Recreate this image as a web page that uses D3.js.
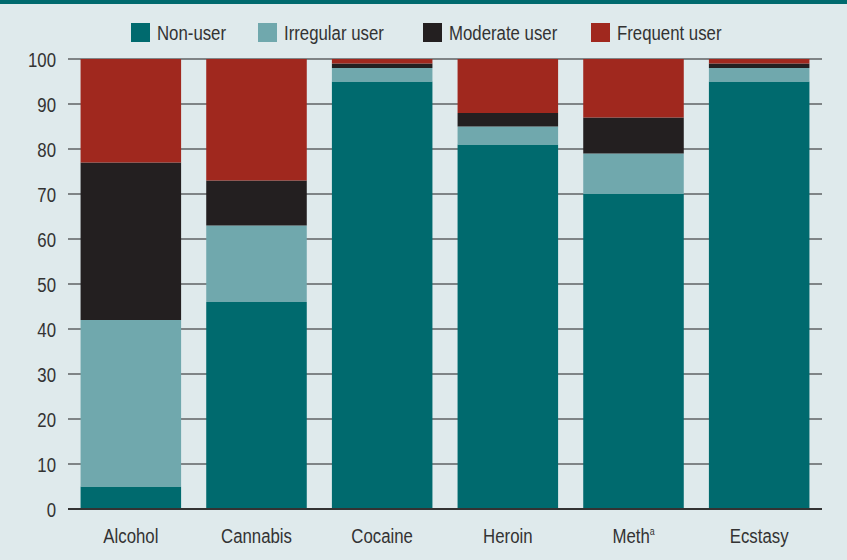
<!DOCTYPE html>
<html>
<head>
<meta charset="utf-8">
<script src="https://cdn.jsdelivr.net/npm/d3@7"></script>
<style>
  html, body { margin: 0; padding: 0; background: #dfeaec; }
  svg { display: block; }
  text { font-family: "Liberation Sans", Arial, sans-serif; fill: #333; }
</style>
</head>
<body>
<div id="chart"></div>
<script>
// categories and stacked shares (percent of respondents)
const drugs = ['Alcohol', 'Cannabis', 'Cocaine', 'Heroin', 'Meth', 'Ecstasy'];
const groups = ['Non-user', 'Irregular user', 'Moderate user', 'Frequent user'];
const nonUser = [5, 46, 95, 81, 70, 95];
const irregularUser = [37, 17, 3, 4, 9, 3];
const moderateUser = [35, 10, 1, 3, 8, 1];
const frequentUser = [23, 27, 1, 12, 13, 1];
const yTicks = [0, 10, 20, 30, 40, 50, 60, 70, 80, 90, 100];

const colors = ['#006a6e', '#70a8ad', '#231f20', '#a0281e'];

const width = 847, height = 560;
const margin = {top: 59, right: 25, bottom: 51, left: 68};
const narrow = 0.8; // squeeze text to mimic a condensed face
const fontSize = 21;

const rows = drugs.map((d, i) => ({
    drug: d,
    'Non-user': nonUser[i],
    'Irregular user': irregularUser[i],
    'Moderate user': moderateUser[i],
    'Frequent user': frequentUser[i]
}));

const stacked = d3.stack().keys(groups)(rows);

const svg = d3.select('#chart')
    .append('svg')
    .attr('width', width)
    .attr('height', height);

svg.append('rect')
    .attr('width', width)
    .attr('height', height)
    .attr('fill', '#dfeaec');

// teal band on top
svg.append('rect')
    .attr('width', width)
    .attr('height', 4)
    .attr('fill', '#006a6e');

const x = d3.scaleBand()
    .domain(drugs)
    .range([margin.left, width - margin.right])
    .paddingInner(0.2)
    .paddingOuter(0.1);

const y = d3.scaleLinear()
    .domain([0, 100])
    .range([height - margin.bottom, margin.top]);

// gridlines (behind the bars)
svg.append('g')
    .selectAll('line')
    .data(yTicks.filter((t) => t > 0))
    .enter()
    .append('line')
    .attr('x1', margin.left)
    .attr('x2', width - margin.right)
    .attr('y1', (d) => y(d))
    .attr('y2', (d) => y(d))
    .attr('stroke', '#7f8486')
    .attr('stroke-width', 2);

// y tick labels
svg.append('g')
    .selectAll('text')
    .data(yTicks)
    .enter()
    .append('text')
    .attr('transform', (d) => `translate(56, ${y(d) + 8}) scale(${narrow}, 1)`)
    .attr('text-anchor', 'end')
    .attr('font-size', fontSize)
    .text((d) => d);

// bars
svg.append('g')
    .selectAll('g')
    .data(stacked)
    .enter()
    .append('g')
    .attr('fill', (d, i) => colors[i])
    .selectAll('rect')
    .data((d) => d)
    .enter()
    .append('rect')
    .attr('x', (d) => x(d.data.drug))
    .attr('width', x.bandwidth())
    .attr('y', (d) => y(d[1]))
    .attr('height', (d) => y(d[0]) - y(d[1]));

// baseline
svg.append('line')
    .attr('x1', margin.left)
    .attr('x2', width - margin.right)
    .attr('y1', y(0))
    .attr('y2', y(0))
    .attr('stroke', '#333')
    .attr('stroke-width', 2);

// x labels
const xl = svg.append('g')
    .selectAll('text')
    .data(drugs)
    .enter()
    .append('text')
    .attr('transform', (d) => `translate(${x(d) + x.bandwidth() / 2}, 543) scale(${narrow}, 1)`)
    .attr('text-anchor', 'middle')
    .attr('font-size', fontSize);
xl.append('tspan').text((d) => d);
xl.filter((d) => d === 'Meth')
    .append('tspan')
    .attr('font-size', 11)
    .attr('dy', -8)
    .text('a');

// legend
const legendX = [131, 258, 423, 591];
const legend = svg.append('g')
    .selectAll('g')
    .data(groups)
    .enter()
    .append('g')
    .attr('transform', (d, i) => `translate(${legendX[i]}, 23)`);
legend.append('rect')
    .attr('width', 19)
    .attr('height', 19)
    .attr('fill', (d, i) => colors[i]);
legend.append('text')
    .attr('transform', `translate(26, 17) scale(${narrow}, 1)`)
    .attr('font-size', fontSize)
    .text((d) => d);
</script>
</body>
</html>
